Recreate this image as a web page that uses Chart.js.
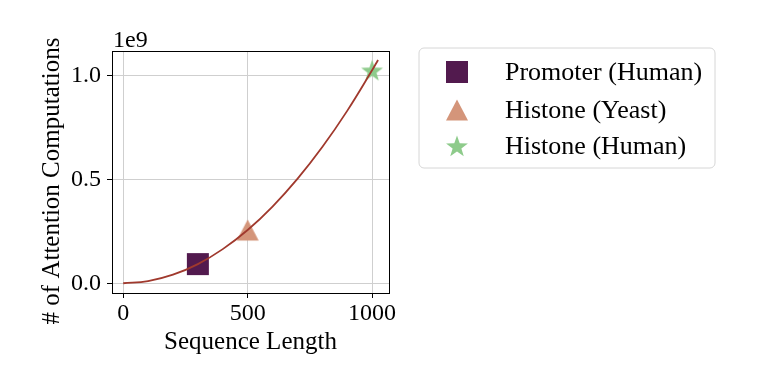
<!DOCTYPE html>
<html>
<head>
<meta charset="utf-8">
<script src="https://cdn.jsdelivr.net/npm/chart.js@4.4.0/dist/chart.umd.min.js"></script>
<style>
  html, body { margin: 0; padding: 0; background: #fff; }
  #wrap { width: 763px; height: 382px; }
</style>
</head>
<body>
<div id="wrap"><canvas id="myChart" width="763" height="382"></canvas></div>
<script>
// curve (values in units of 1e9)
const curveX = [0, 100, 200, 300, 400, 500, 600, 700, 800, 900, 1000, 1024];
const curveY = [0, 0.0102, 0.041, 0.092, 0.164, 0.256, 0.369, 0.502, 0.655, 0.829, 1.024, 1.074];

// the three datasets shown as markers
const pointLabels = ['Promoter (Human)', 'Histone (Yeast)', 'Histone (Human)'];
const pointX = [300, 500, 1000];
const pointY = [0.092, 0.256, 1.024];
const pointColors = ['#521a4e', '#d4957a', '#8ecb8b'];
const pointShapes = ['square', 'triangle', 'star'];

const xTicks = [0, 500, 1000];
const yTicks = [0, 0.5, 1.0];

const FONT = '"Liberation Serif", "Times New Roman", serif';

function makeMarker(shape, color) {
  const c = document.createElement('canvas');
  c.width = 24; c.height = 24;
  const g = c.getContext('2d');
  g.fillStyle = color;
  g.beginPath();
  if (shape === 'square') {
    g.rect(1, 1, 22, 22);
  } else if (shape === 'triangle') {
    g.moveTo(12, 1.5); g.lineTo(23, 22.5); g.lineTo(1, 22.5); g.closePath();
  } else {
    const R = 11.5, r = 4.6;
    for (let i = 0; i < 10; i++) {
      const a = -Math.PI / 2 + i * Math.PI / 5;
      const rr = i % 2 === 0 ? R : r;
      const px = 12 + rr * Math.cos(a), py = 13 + rr * Math.sin(a);
      if (i === 0) g.moveTo(px, py); else g.lineTo(px, py);
    }
    g.closePath();
  }
  g.fill();
  return c;
}
const markers = pointShapes.map((s, i) => makeMarker(s, pointColors[i]));

const datasets = [{
  label: 'curve',
  data: curveX.map((x, i) => ({ x: x, y: curveY[i] })),
  borderColor: '#a0392d',
  borderWidth: 1.8,
  pointRadius: 0,
  tension: 0.4,
  showLine: true,
  order: 0
}];
pointLabels.forEach((lab, i) => {
  datasets.push({
    label: lab,
    data: [{ x: pointX[i], y: pointY[i] }],
    pointStyle: markers[i],
    pointRadius: 12,
    showLine: false,
    order: 1
  });
});

const extras = {
  id: 'extras',
  afterDraw(chart) {
    const ctx = chart.ctx;
    const a = chart.chartArea;
    ctx.save();
    // full axes box
    ctx.strokeStyle = '#000';
    ctx.lineWidth = 1;
    ctx.strokeRect(Math.round(a.left) + 0.5, Math.round(a.top) + 0.5,
      Math.round(a.right - a.left), Math.round(a.bottom - a.top));
    ctx.fillStyle = '#000';
    // offset text
    ctx.font = '24px ' + FONT;
    ctx.textAlign = 'left';
    ctx.textBaseline = 'alphabetic';
    ctx.fillText('1e9', a.left + 1, a.top - 4);
    // axis titles
    ctx.font = '25px ' + FONT;
    ctx.textAlign = 'center';
    ctx.fillText('Sequence Length', (a.left + a.right) / 2, 349);
    ctx.save();
    ctx.translate(59, 181);
    ctx.rotate(-Math.PI / 2);
    ctx.fillText('# of Attention Computations', 0, 0);
    ctx.restore();
    // legend
    const lx = 419, ly = 48, lw = 296, lh = 120, rad = 5;
    ctx.beginPath();
    ctx.moveTo(lx + rad, ly);
    ctx.arcTo(lx + lw, ly, lx + lw, ly + lh, rad);
    ctx.arcTo(lx + lw, ly + lh, lx, ly + lh, rad);
    ctx.arcTo(lx, ly + lh, lx, ly, rad);
    ctx.arcTo(lx, ly, lx + lw, ly, rad);
    ctx.closePath();
    ctx.fillStyle = '#fff';
    ctx.fill();
    ctx.strokeStyle = '#d6d6d6';
    ctx.stroke();
    const rows = [72, 110, 146];
    ctx.font = '26px ' + FONT;
    ctx.textAlign = 'left';
    ctx.textBaseline = 'middle';
    ctx.fillStyle = '#000';
    pointLabels.forEach((lab, i) => {
      ctx.drawImage(markers[i], 457 - 12, rows[i] - 12);
      ctx.fillText(lab, 505, rows[i] + 1);
    });
    ctx.restore();
  }
};

const ctx = document.getElementById('myChart').getContext('2d');
const myChart = new Chart(ctx, {
  type: 'scatter',
  data: { datasets: datasets },
  options: {
    responsive: false,
    animation: false,
    layout: { padding: { left: 0, top: 51, right: 374, bottom: 0 } },
    plugins: { legend: { display: false }, tooltip: { enabled: false } },
    scales: {
      x: {
        type: 'linear',
        min: -45,
        max: 1068,
        afterFit: (s) => { s.height = 89; },
        afterBuildTicks: (s) => { s.ticks = xTicks.map(v => ({ value: v })); },
        grid: { color: '#cfcfcf', lineWidth: 1, tickColor: '#000', tickLength: 5 },
        border: { display: false },
        ticks: {
          color: '#000', padding: 1, font: { family: FONT, size: 24 },
          callback: (v) => String(v)
        }
      },
      y: {
        type: 'linear',
        min: -0.047,
        max: 1.117,
        afterFit: (s) => { s.width = 112; },
        afterBuildTicks: (s) => { s.ticks = yTicks.map(v => ({ value: v })); },
        grid: { color: '#cfcfcf', lineWidth: 1, tickColor: '#000', tickLength: 5 },
        border: { display: false },
        ticks: {
          color: '#000', padding: 6, font: { family: FONT, size: 24 },
          callback: (v) => v.toFixed(1)
        }
      }
    }
  },
  plugins: [extras]
});
</script>
</body>
</html>
